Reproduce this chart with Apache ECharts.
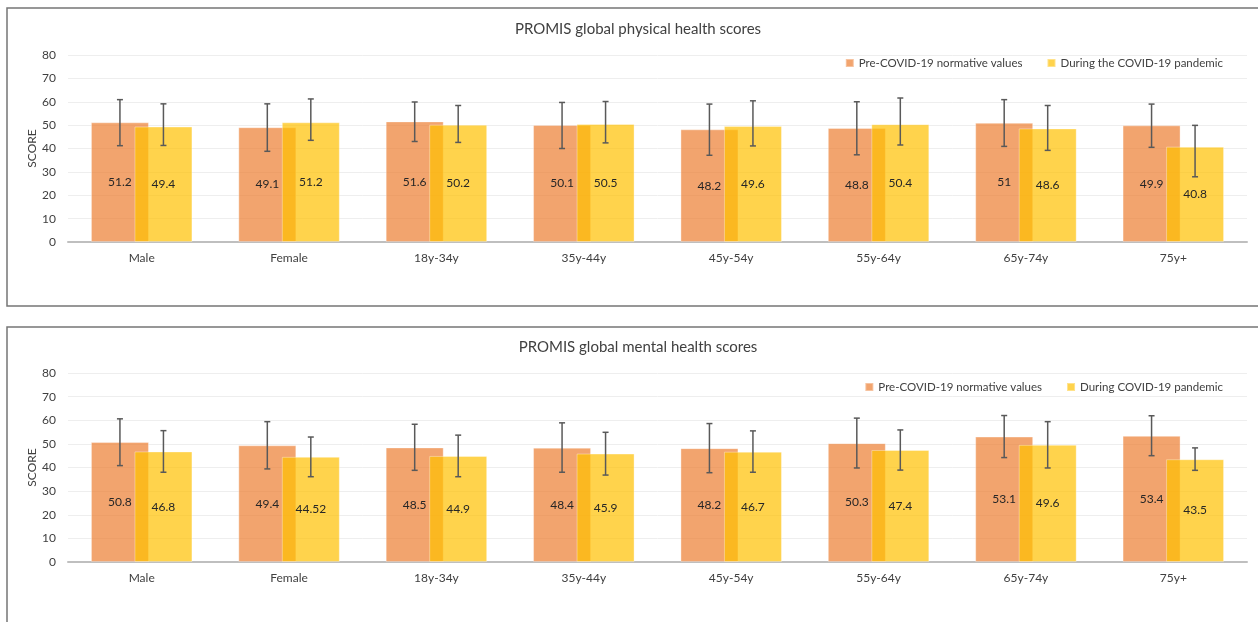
<!DOCTYPE html>
<html>
<head>
<meta charset="utf-8">
<style>
html,body{margin:0;padding:0;background:#fff;}
#c{width:1258px;height:622px;}
</style>
<script src="https://cdn.jsdelivr.net/npm/echarts@6/dist/echarts.min.js"></script>
</head>
<body>
<div id="c"></div>
<script>
const categories = ['Male','Female','18y-34y','35y-44y','45y-54y','55y-64y','65y-74y','75y+'];
const yTicks = [0,10,20,30,40,50,60,70,80];

const physPre = [51.2,49.1,51.6,50.1,48.2,48.8,51,49.9];
const physDuring = [49.4,51.2,50.2,50.5,49.6,50.4,48.6,40.8];
const physPreLow = [41.2,38.8,43.0,40.0,37.1,37.3,40.9,40.5];
const physPreHigh = [60.9,59.1,59.9,59.7,59.0,60.0,60.9,59.0];
const physDuringLow = [41.3,43.5,42.6,42.4,41.1,41.5,39.2,27.9];
const physDuringHigh = [59.1,61.2,58.4,60.1,60.4,61.6,58.4,49.9];

const mentPre = [50.8,49.4,48.5,48.4,48.2,50.3,53.1,53.4];
const mentDuring = [46.8,44.52,44.9,45.9,46.7,47.4,49.6,43.5];
const mentPreLow = [40.8,39.4,38.8,38.0,37.8,39.8,44.2,45.0];
const mentPreHigh = [60.6,59.4,58.3,58.9,58.6,60.9,62.0,61.9];
const mentDuringLow = [38.0,36.1,36.1,36.8,38.0,38.9,39.8,38.8];
const mentDuringHigh = [55.6,52.9,53.7,54.9,55.5,55.9,59.4,48.3];

const preName = 'Pre-COVID-19 normative values';
const durName1 = 'During the COVID-19 pandemic';
const durName2 = 'During COVID-19 pandemic';

const FONT = 'Lato';
const BAR_W = 58;
const BAR_GAP = -0.25;
const OFFSET = (BAR_W + BAR_W * BAR_GAP) / 2;
const colPre = 'rgba(237,125,49,0.7)';
const colDur = 'rgba(255,192,0,0.7)';

function errSeries(name, low, high, dir, gi) {
  return {
    type: 'custom',
    name: name + ' err',
    xAxisIndex: gi, yAxisIndex: gi,
    z: 5,
    silent: true,
    data: categories.map((c, i) => [i, low[i], high[i]]),
    encode: {x: 0, y: [1, 2]},
    renderItem: function (params, api) {
      const lo = api.coord([api.value(0), api.value(1)]);
      const hi = api.coord([api.value(0), api.value(2)]);
      const x = lo[0] + dir * OFFSET;
      const cap = 3;
      const st = {stroke: '#595959', lineWidth: 1.5};
      return {
        type: 'group',
        children: [
          {type: 'line', shape: {x1: x, y1: lo[1], x2: x, y2: hi[1]}, style: st},
          {type: 'line', shape: {x1: x - cap, y1: lo[1], x2: x + cap, y2: lo[1]}, style: st},
          {type: 'line', shape: {x1: x - cap, y1: hi[1], x2: x + cap, y2: hi[1]}, style: st}
        ]
      };
    }
  };
}

function barSeries(name, data, color, gi) {
  return {
    type: 'bar', name: name,
    xAxisIndex: gi, yAxisIndex: gi,
    data: data,
    barWidth: BAR_W,
    barGap: (BAR_GAP * 100) + '%',
    itemStyle: {color: color, borderColor: 'rgba(255,255,255,0.35)', borderWidth: 1},
    label: {show: true, position: 'inside', color: '#262626', fontFamily: FONT, fontSize: 12},
    emphasis: {disabled: true}
  };
}

function xAx(gi) {
  return {
    type: 'category', gridIndex: gi, data: categories,
    axisLine: {lineStyle: {color: '#BFBFBF', width: 2}},
    axisTick: {show: false},
    axisLabel: {color: '#404040', fontFamily: FONT, fontSize: 12, margin: 10}
  };
}
function yAx(gi) {
  return {
    type: 'value', gridIndex: gi, min: yTicks[0], max: yTicks[yTicks.length - 1], interval: 10,
    name: 'SCORE', nameLocation: 'middle', nameRotate: 90, nameGap: 30, nameMoveOverlap: false,
    nameTextStyle: {color: '#404040', fontFamily: FONT, fontSize: 12},
    axisLine: {show: false}, axisTick: {show: false},
    axisLabel: {color: '#404040', fontFamily: FONT, fontSize: 12, margin: 12},
    splitLine: {lineStyle: {color: '#EEEEEE', width: 1}}
  };
}

const chart = echarts.init(document.getElementById('c'), null, {renderer: 'canvas'});
chart.setOption({
  animation: false,
  backgroundColor: '#fff',
  textStyle: {fontFamily: FONT},
  graphic: [
    {type: 'rect', shape: {x: 7, y: 8, width: 1270, height: 298}, style: {fill: 'none', stroke: '#767676', lineWidth: 1.5}, silent: true, z: -10},
    {type: 'rect', shape: {x: 7, y: 327, width: 1270, height: 320}, style: {fill: 'none', stroke: '#767676', lineWidth: 1.5}, silent: true, z: -10}
  ],
  title: [
    {text: 'PROMIS global physical health scores', left: 633, textAlign: 'center', top: 17,
     textStyle: {color: '#404040', fontWeight: 'normal', fontFamily: FONT, fontSize: 15}},
    {text: 'PROMIS global mental health scores', left: 633, textAlign: 'center', top: 335,
     textStyle: {color: '#404040', fontWeight: 'normal', fontFamily: FONT, fontSize: 15}}
  ],
  legend: [
    {data: [preName, durName1], right: 30, top: 52, itemWidth: 8, itemHeight: 8, itemGap: 24,
     icon: 'rect', textStyle: {color: '#404040', fontFamily: FONT, fontSize: 11.5}, selectedMode: false},
    {data: [preName, durName2], right: 30, top: 376, itemWidth: 8, itemHeight: 8, itemGap: 24,
     icon: 'rect', textStyle: {color: '#404040', fontFamily: FONT, fontSize: 11.5}, selectedMode: false}
  ],
  grid: [
    {left: 68, right: 11, top: 55, height: 187},
    {left: 68, right: 11, top: 373, height: 189}
  ],
  xAxis: [xAx(0), xAx(1)],
  yAxis: [yAx(0), yAx(1)],
  series: [
    barSeries(preName, physPre, colPre, 0),
    barSeries(durName1, physDuring, colDur, 0),
    errSeries(preName, physPreLow, physPreHigh, -1, 0),
    errSeries(durName1, physDuringLow, physDuringHigh, 1, 0),
    barSeries(preName, mentPre, colPre, 1),
    barSeries(durName2, mentDuring, colDur, 1),
    errSeries(preName, mentPreLow, mentPreHigh, -1, 1),
    errSeries(durName2, mentDuringLow, mentDuringHigh, 1, 1)
  ]
});
</script>
</body>
</html>
